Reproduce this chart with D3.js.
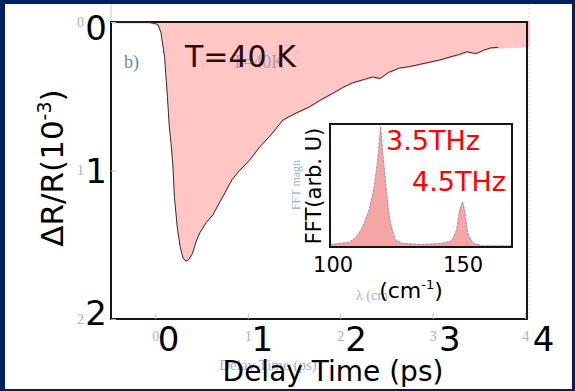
<!DOCTYPE html>
<html>
<head>
<meta charset="utf-8">
<script src="https://cdn.jsdelivr.net/npm/d3@7"></script>
<style>
  html, body { margin: 0; padding: 0; background: #002060; }
  svg { display: block; }
</style>
</head>
<body>
<script>
// размеры окна
const width = 575;
const height = 391;

// данные: задержка (пс) и ΔR/R (10^-3)
const delayPs = [-0.48, -0.3, -0.1, 0.0, 0.03, 0.06, 0.10, 0.13, 0.15, 0.17, 0.19, 0.206, 0.24, 0.27, 0.30, 0.33,
  0.36, 0.40, 0.44, 0.48, 0.55, 0.62, 0.69, 0.77, 0.83, 0.91, 1.02, 1.13, 1.25, 1.38, 1.5, 1.67, 1.8, 1.92,
  2.03, 2.13, 2.24, 2.35, 2.43, 2.52, 2.64, 2.75, 2.86, 2.97, 3.08, 3.19, 3.28, 3.37, 3.44, 3.48, 3.55, 3.62, 3.71];
const dRR = [0, 0, 0, -0.01, -0.02, -0.07, -0.24, -0.50, -0.70, -0.82, -0.97, -1.18, -1.40, -1.52, -1.59, -1.61,
  -1.60, -1.56, -1.48, -1.42, -1.35, -1.30, -1.22, -1.13, -1.06, -1.00, -0.93, -0.84, -0.76, -0.66, -0.62, -0.57, -0.52, -0.48,
  -0.44, -0.41, -0.39, -0.37, -0.38, -0.34, -0.31, -0.30, -0.285, -0.27, -0.255, -0.235, -0.22, -0.20, -0.21, -0.21, -0.19, -0.175, -0.17];
// хвост розовой заливки за концом кривой
const tailPs = [3.85, 4.05];
const tailRR = [-0.165, -0.16];

// врезка: спектр FFT
const waveNum = [99, 102.7, 106.5, 109, 111.5, 114, 116, 117.3, 118.5, 119.2, 120.8, 122, 124, 127, 134.6,
  142, 145.8, 147.7, 148.8, 150, 150.8, 152, 154, 157.7, 169];
const fftAmp = [0.02, 0.03, 0.04, 0.08, 0.16, 0.30, 0.49, 0.71, 0.98, 0.79, 0.44, 0.22, 0.06, 0.03, 0.02,
  0.03, 0.05, 0.14, 0.30, 0.37, 0.30, 0.11, 0.03, 0.01, 0.01];

// подписи осей
const xTicks = [0, 1, 2, 3, 4];
const yTicks = [0, -1, -2];
const insetTicks = [100, 150];

const svg = d3.select('body').append('svg')
  .attr('width', width)
  .attr('height', height);

// белая «страница» слайда
svg.append('rect')
  .attr('x', 5).attr('y', 4)
  .attr('width', 567).attr('height', 385)
  .attr('fill', '#fff');

// шкалы основного графика
const plotBox = {left: 111, right: 527, top: 22, bottom: 319};
const xScale = d3.scaleLinear().domain([-0.48, 4.02]).range([plotBox.left, plotBox.right]);
const yScale = d3.scaleLinear().domain([0, -2]).range([plotBox.top, plotBox.bottom]);
// крупные подписи наложены со сдвигом
const xLab = d3.scaleLinear().domain([0, 4]).range([168, 543]);
const yLab = d3.scaleLinear().domain([0, -2]).range([29, 314]);

const mainPts = delayPs.map((t, i) => [t, dRR[i]]);
const areaPts = mainPts.concat(tailPs.map((t, i) => [t, tailRR[i]]));

// рамка: тонкие прямоугольники-полоски
function drawBox(b) {
  const w = 2;
  const bars = [
    [b.left - w / 2, b.top - w / 2, b.right - b.left + w, w],
    [b.left - w / 2, b.bottom - w / 2, b.right - b.left + w, w],
    [b.left - w / 2, b.top - w / 2, w, b.bottom - b.top + w],
    [b.right - w / 2, b.top - w / 2, w, b.bottom - b.top + w]
  ];
  svg.append('g').selectAll('rect')
    .data(bars)
    .join('rect')
    .attr('x', d => d[0]).attr('y', d => d[1])
    .attr('width', d => d[2]).attr('height', d => d[3])
    .attr('fill', '#151515');
}

// бледные серые линии от скана
svg.append('line').attr('x1', 111).attr('x2', 111).attr('y1', 4).attr('y2', 22)
  .attr('stroke', '#bbb').attr('stroke-width', 0.8);
svg.append('line').attr('x1', 529).attr('x2', 529).attr('y1', 4).attr('y2', 319)
  .attr('stroke', '#ccc').attr('stroke-width', 0.8).attr('stroke-dasharray', '2,2');

// розовая заливка
svg.append('path')
  .datum(areaPts)
  .attr('fill', '#ffc6c6')
  .attr('d', d3.area().x(d => xScale(d[0])).y0(yScale(0) - 1).y1(d => yScale(d[1]) + 1.5));

drawBox(plotBox);

// кривая
svg.append('path')
  .datum(mainPts)
  .attr('fill', 'none')
  .attr('stroke', '#3a2a2a')
  .attr('stroke-width', 1)
  .attr('d', d3.line().x(d => xScale(d[0])).y(d => yScale(d[1])));

// бледные исходные подписи (скан)
const faint = '#a3b1cf';
const smallX = svg.append('g')
  .attr('transform', `translate(0,${plotBox.bottom})`)
  .call(d3.axisBottom(xScale).tickValues(xTicks).tickSize(-5).tickPadding(12).tickFormat(d3.format('d')));
smallX.select('.domain').remove();
smallX.selectAll('line').attr('stroke', '#bbb');
smallX.selectAll('text').attr('fill', faint).style('font', '14px "Liberation Serif"');

const smallY = svg.append('g')
  .attr('transform', `translate(${plotBox.left},0)`)
  .call(d3.axisLeft(yScale).tickValues(yTicks).tickSize(-5).tickPadding(27).tickFormat(d => Math.abs(d)));
smallY.select('.domain').remove();
smallY.selectAll('line').attr('stroke', '#bbb');
smallY.selectAll('text').attr('fill', faint).style('font', '14px "Liberation Serif"');

svg.append('text').attr('x', 268).attr('y', 370).attr('text-anchor', 'middle')
  .attr('fill', faint).style('font', '15px "Liberation Serif"').text('Delay Time (ps)');
svg.append('text').attr('x', 124).attr('y', 68)
  .attr('fill', '#6a86b0').style('font', '18px "Liberation Serif"').text('b)');
svg.append('text').attr('x', 232).attr('y', 68)
  .attr('fill', '#b59aa8').style('font', '18px "Liberation Serif"').text('T=40K');

// крупные подписи осей
const bigX = svg.append('g')
  .attr('transform', `translate(0,${plotBox.bottom})`)
  .call(d3.axisBottom(xLab).tickValues(xTicks).tickSize(0).tickPadding(8).tickFormat(d3.format('d')));
bigX.select('.domain').remove();
bigX.selectAll('text').attr('fill', '#000').style('font', '34px "DejaVu Sans"');

const bigY = svg.append('g')
  .attr('transform', `translate(${plotBox.left},0)`)
  .call(d3.axisLeft(yLab).tickValues(yTicks).tickSize(0).tickPadding(4).tickFormat(d => Math.abs(d)));
bigY.select('.domain').remove();
bigY.selectAll('text').attr('fill', '#000').style('font', '34px "DejaVu Sans"');

svg.append('text')
  .attr('x', 333).attr('y', 381)
  .attr('text-anchor', 'middle')
  .style('font', '28px "DejaVu Sans"')
  .text('Delay Time (ps)');

const yTitle = svg.append('text')
  .attr('transform', 'translate(63,168) rotate(-90)')
  .attr('text-anchor', 'middle')
  .style('font', '31px "DejaVu Sans"');
yTitle.append('tspan').text('ΔR/R(10');
yTitle.append('tspan').attr('dy', -12).style('font-size', '19px').text('-3');
yTitle.append('tspan').attr('dy', 12).text(')');

svg.append('text')
  .attr('x', 185).attr('y', 67)
  .attr('fill', '#2e0c0c')
  .style('font', '30px "DejaVu Sans"')
  .text('T=40 K');

// врезка
const insetBox = {left: 330, right: 512, top: 124, bottom: 247};
const ix = d3.scaleLinear().domain([99, 169]).range([insetBox.left, insetBox.right]);
const iy = d3.scaleLinear().domain([0, 1]).range([insetBox.bottom, insetBox.top]);
const insetPts = waveNum.map((w, i) => [w, fftAmp[i]]);

svg.append('rect')
  .attr('x', insetBox.left).attr('y', insetBox.top)
  .attr('width', insetBox.right - insetBox.left).attr('height', insetBox.bottom - insetBox.top)
  .attr('fill', '#fff');

svg.append('path')
  .datum(insetPts)
  .attr('fill', '#f5a5a5')
  .attr('stroke', '#8a8a9a')
  .attr('stroke-width', 0.8)
  .attr('stroke-dasharray', '3,1')
  .attr('d', d3.area().x(d => ix(d[0])).y0(iy(0)).y1(d => iy(d[1])));

drawBox(insetBox);

const insetAxis = svg.append('g')
  .attr('transform', `translate(0,${insetBox.bottom})`)
  .call(d3.axisBottom(ix).tickValues(insetTicks).tickSize(0).tickPadding(10));
insetAxis.select('.domain').remove();
insetAxis.selectAll('text').attr('fill', '#000').style('font', '21px "DejaVu Sans"');

svg.append('text').attr('transform', 'translate(300,185) rotate(-90)').attr('text-anchor', 'middle')
  .attr('fill', faint).style('font', '12px "Liberation Serif"').text('FFT magn');
svg.append('text').attr('x', 356).attr('y', 300)
  .attr('fill', faint).style('font', '14px "Liberation Serif"').text('λ  (cm');

svg.append('text')
  .attr('transform', 'translate(321,186) rotate(-90)')
  .attr('text-anchor', 'middle')
  .style('font', '21px "DejaVu Sans"')
  .text('FFT(arb. U)');

const cmLab = svg.append('text')
  .attr('x', 411).attr('y', 298)
  .attr('text-anchor', 'middle')
  .style('font', '22px "DejaVu Sans"');
cmLab.append('tspan').text('(cm');
cmLab.append('tspan').attr('dy', -9).style('font-size', '13px').text('-1');
cmLab.append('tspan').attr('dy', 9).text(')');

svg.append('text').attr('x', 386).attr('y', 150)
  .attr('fill', '#ff0000').style('font', '27px "DejaVu Sans"').text('3.5THz');
svg.append('text').attr('x', 412).attr('y', 191)
  .attr('fill', '#ff0000').style('font', '27px "DejaVu Sans"').text('4.5THz');
</script>
</body>
</html>
